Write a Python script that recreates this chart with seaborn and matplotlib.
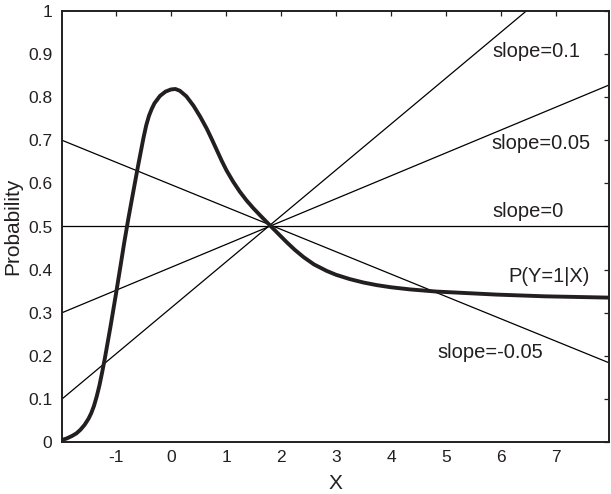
import matplotlib
matplotlib.use("Agg")
import matplotlib.pyplot as plt
import seaborn as sns
import pandas as pd

# ---- data ----
curve_x = [-1.98, -1.90, -1.80, -1.72, -1.65, -1.57, -1.50, -1.45, -1.40, -1.35,
           -1.30, -1.25, -1.20, -1.10, -1.00, -0.92, -0.85, -0.78, -0.70, -0.60,
           -0.50, -0.45, -0.40, -0.35, -0.30, -0.20, -0.10, 0.00, 0.08, 0.16,
           0.28, 0.41, 0.53, 0.65, 0.74, 0.83, 0.92, 1.01, 1.13, 1.25,
           1.37, 1.50, 1.65, 1.82, 1.96, 2.10, 2.25, 2.41, 2.60, 2.83,
           3.00, 3.25, 3.50, 3.74, 4.00, 4.35, 4.83, 5.30, 5.92, 6.80,
           7.96]
curve_y = [0.005, 0.008, 0.014, 0.020, 0.028, 0.040, 0.054, 0.067, 0.084, 0.106,
           0.132, 0.163, 0.196, 0.268, 0.344, 0.407, 0.463, 0.515, 0.571, 0.640,
           0.706, 0.735, 0.757, 0.773, 0.786, 0.803, 0.813, 0.818, 0.819, 0.815,
           0.802, 0.780, 0.755, 0.727, 0.703, 0.678, 0.653, 0.630, 0.604, 0.581,
           0.561, 0.542, 0.522, 0.500, 0.482, 0.464, 0.446, 0.429, 0.412, 0.397,
           0.388, 0.378, 0.370, 0.364, 0.359, 0.354, 0.349, 0.346, 0.342, 0.338,
           0.335]

line_names = ["slope=0.1", "slope=0.05", "slope=0", "slope=-0.05"]
line_x_start = [-1.98, -1.98, -1.98, -1.98]
line_x_end = [6.46, 7.96, 7.96, 7.96]
line_y_start = [0.10, 0.30, 0.50, 0.70]
line_y_end = [1.00, 0.828, 0.50, 0.184]

label_texts = ["slope=0.1", "slope=0.05", "slope=0", "P(Y=1|X)", "slope=-0.05"]
label_x = [5.85, 5.82, 5.84, 6.13, 4.84]
label_y = [0.905, 0.693, 0.535, 0.384, 0.207]

x_ticks = [-1, 0, 1, 2, 3, 4, 5, 6, 7]
y_ticks = [0, 0.1, 0.2, 0.3, 0.4, 0.5, 0.6, 0.7, 0.8, 0.9, 1]
y_tick_labels = ["0", "0.1", "0.2", "0.3", "0.4", "0.5", "0.6", "0.7", "0.8", "0.9", "1"]

# ---- styling ----
sns.set_theme(style="white")
plt.rcParams["font.family"] = ["Liberation Sans", "DejaVu Sans"]

fig = plt.figure(figsize=(6.11, 4.94), dpi=100)
ax = fig.add_axes([62 / 611, 1 - 442 / 494, (609 - 62) / 611, (442 - 11) / 494])

for i, name in enumerate(line_names):
    df = pd.DataFrame({"x": [line_x_start[i], line_x_end[i]],
                       "y": [line_y_start[i], line_y_end[i]]})
    sns.lineplot(data=df, x="x", y="y", ax=ax, color="black", linewidth=0.9,
                 sort=False, estimator=None)

curve_df = pd.DataFrame({"x": curve_x, "y": curve_y})
sns.lineplot(data=curve_df, x="x", y="y", ax=ax, color="#231f20", linewidth=2.8,
             sort=False, estimator=None, solid_joinstyle="round",
             solid_capstyle="round")

for t, tx, ty in zip(label_texts, label_x, label_y):
    ax.text(tx, ty, t, ha="left", va="center", fontsize=14.5, color="#231f20")

ax.set_xlim(-1.982, 7.964)
ax.set_ylim(0, 1)
ax.set_xticks(x_ticks)
ax.set_xticklabels([str(v) for v in x_ticks])
ax.set_yticks(y_ticks)
ax.set_yticklabels(y_tick_labels)
ax.tick_params(direction="in", length=3.8, width=0.9, top=True, right=True,
               labelsize=12.5, colors="#231f20")
ax.tick_params(axis="x", pad=6)
ax.tick_params(axis="y", pad=7)
for s in ax.spines.values():
    s.set_linewidth(1.4)
    s.set_color("#231f20")
    s.set_visible(True)

ax.set_xlabel("X", fontsize=15, color="#231f20", labelpad=6)
ax.set_ylabel("Probability", fontsize=15, color="#231f20", labelpad=4)

fig.savefig("out.png", dpi=100)
